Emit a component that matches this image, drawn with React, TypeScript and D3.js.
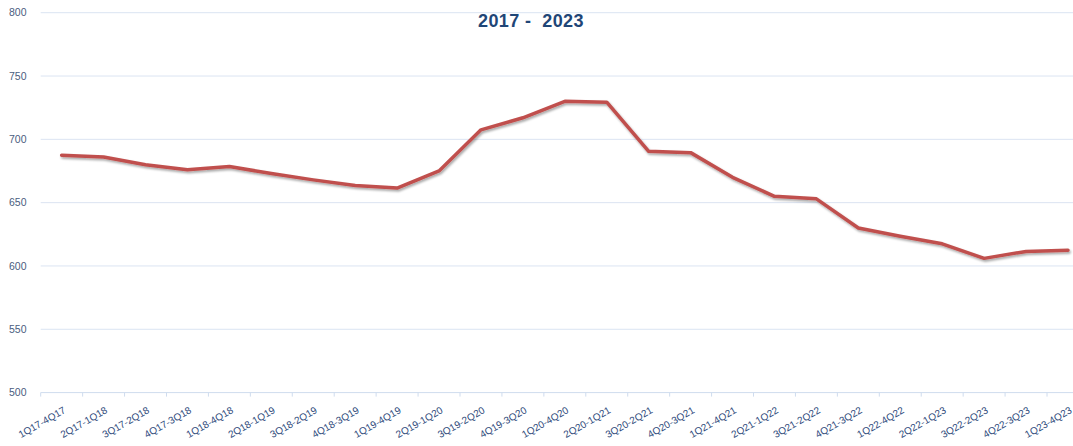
import React, { useRef, useEffect } from 'react';
import * as d3 from 'd3';

const periods = [
  '1Q17-4Q17', '2Q17-1Q18', '3Q17-2Q18', '4Q17-3Q18', '1Q18-4Q18',
  '2Q18-1Q19', '3Q18-2Q19', '4Q18-3Q19', '1Q19-4Q19', '2Q19-1Q20',
  '3Q19-2Q20', '4Q19-3Q20', '1Q20-4Q20', '2Q20-1Q21', '3Q20-2Q21',
  '4Q20-3Q21', '1Q21-4Q21', '2Q21-1Q22', '3Q21-2Q22', '4Q21-3Q22',
  '1Q22-4Q22', '2Q22-1Q23', '3Q22-2Q23', '4Q22-3Q23', '1Q23-4Q23',
];

const values = [
  687.5, 686, 680, 676, 678.5,
  673, 668, 663.5, 661.5, 675,
  707.5, 717, 730, 729.3, 690.5,
  689.5, 670, 655, 653, 630,
  623.5, 617.5, 606, 611.5, 612.5,
];

const yTicks = [500, 550, 600, 650, 700, 750, 800];

const subtitle = '2017 -  2023';

const W = 1073;
const H = 446;

const App = () => {
  const ref = useRef<SVGSVGElement | null>(null);

  useEffect(() => {
    if (!ref.current) return;
    const svg = d3.select(ref.current);
    svg.selectAll('*').remove();

    const left = 40.7;
    const step = 41.93;
    const x = d3.scaleBand<string>()
      .domain(periods)
      .range([left, left + step * periods.length]);
    const y = d3.scaleLinear().domain([500, 800]).range([392.6, 12.7]);

    const defs = svg.append('defs');
    defs.append('filter')
      .attr('id', 'shadow')
      .attr('x', '-5%').attr('y', '-20%')
      .attr('width', '110%').attr('height', '140%')
      .append('feDropShadow')
      .attr('dx', 1.2).attr('dy', 1.8)
      .attr('stdDeviation', 1.2)
      .attr('flood-color', '#000')
      .attr('flood-opacity', 0.35);

    // gridlines
    svg.append('g')
      .selectAll('line')
      .data(yTicks)
      .enter()
      .append('line')
      .attr('x1', left)
      .attr('x2', x.range()[1])
      .attr('y1', d => y(d))
      .attr('y2', d => y(d))
      .attr('stroke', d => (d === 500 ? '#cfdcee' : '#dbe4f2'))
      .attr('stroke-width', 1);

    // y labels
    svg.append('g')
      .selectAll('text')
      .data(yTicks)
      .enter()
      .append('text')
      .attr('x', 26.5)
      .attr('y', d => y(d))
      .attr('dy', '0.35em')
      .attr('text-anchor', 'end')
      .style('font-family', 'Liberation Sans, Arial, sans-serif')
      .style('font-size', '10.5px')
      .style('fill', '#4a5d7e')
      .text(d => d);

    // x tick marks at category boundaries
    const bounds = d3.range(periods.length + 1).map(i => left + i * x.step());
    svg.append('g')
      .selectAll('line')
      .data(bounds)
      .enter()
      .append('line')
      .attr('x1', d => d)
      .attr('x2', d => d)
      .attr('y1', y(500))
      .attr('y2', y(500) + 4)
      .attr('stroke', '#cfdcee')
      .attr('stroke-width', 1);

    // x labels
    svg.append('g')
      .selectAll('text')
      .data(periods)
      .enter()
      .append('text')
      .attr('transform', d => `translate(${(x(d) as number) + x.bandwidth() / 2 + 1},${406}) rotate(-30)`)
      .attr('dy', '0.72em')
      .attr('text-anchor', 'end')
      .style('font-family', 'Liberation Sans, Arial, sans-serif')
      .style('font-size', '10px')
      .style('fill', '#2f4b7c')
      .text(d => d);

    // line
    const line = d3.line<number>()
      .x((_, i) => (x(periods[i]) as number) + x.bandwidth() / 2)
      .y(d => y(d));

    svg.append('path')
      .datum(values)
      .attr('fill', 'none')
      .attr('stroke', '#c0504d')
      .attr('stroke-width', 3.5)
      .attr('stroke-linejoin', 'round')
      .attr('stroke-linecap', 'round')
      .attr('filter', 'url(#shadow)')
      .attr('d', line);

    // title (second line)
    svg.append('text')
      .attr('x', 531)
      .attr('y', 27)
      .attr('text-anchor', 'middle')
      .style('font-family', 'Liberation Sans, Arial, sans-serif')
      .style('font-weight', 'bold')
      .style('font-size', '18px')
      .style('letter-spacing', '0.4px')
      .style('fill', '#1f4677')
      .style('white-space', 'pre')
      .attr('xml:space', 'preserve')
      .text(subtitle);
  }, []);

  return (
    <svg
      ref={ref}
      width={W}
      height={H}
      style={{ position: 'absolute', left: 0, top: 0, background: '#fff' }}
    />
  );
};

export default App;
